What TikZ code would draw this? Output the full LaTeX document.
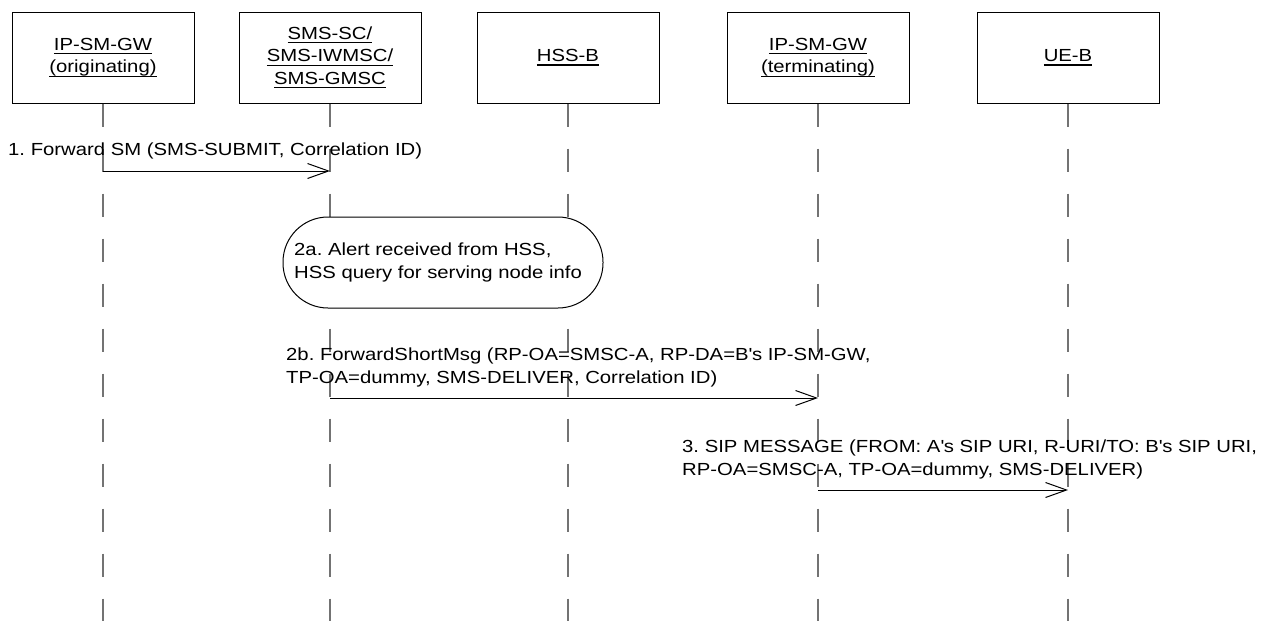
\documentclass[tikz,border=0pt]{standalone}
\usepackage{fontspec}
\setmainfont{Liberation Sans}[FakeStretch=1.16]
\usetikzlibrary{arrows.meta}
\newcommand\ulin[1]{\setbox0\hbox{#1}\rlap{\vrule height -2.8pt depth 4pt width\wd0}\box0}
\frenchspacing
\begin{document}
\begin{tikzpicture}[x=1pt,y=-1pt,
  every node/.style={font=\fontsize{17.5}{22.5}\selectfont},
  entity/.style={draw=black, line width=1pt, minimum width=182pt, minimum height=91pt, inner sep=0pt, align=center, fill=white},
  life/.style={draw=black!55, line width=1.3pt, dash pattern=on 23pt off 22pt},
  msg/.style={draw=black, line width=1pt, -{Straight Barb[length=21pt,width=15pt,line width=1pt]}},
  msgtext/.style={anchor=south west, inner sep=0pt, align=left, text depth=0pt},
  actbox/.style={draw=black, line width=1pt, rounded corners=45pt, fill=white, minimum width=320pt, minimum height=91pt, inner sep=0pt}
]
\useasboundingbox (0,0) rectangle (1268,621);

% entities
\node[entity] (b1) at (103,57.5) {\ulin{IP-SM-GW}\\\ulin{(originating)}};
\node[entity] (b2) at (330,57.5) {\ulin{SMS-SC/}\\\ulin{SMS-IWMSC/}\\\ulin{SMS-GMSC}};
\node[entity] (b3) at (568,57.5) {\ulin{HSS-B}};
\node[entity] (b4) at (818,57.5) {\ulin{IP-SM-GW}\\\ulin{(terminating)}};
\node[entity] (b5) at (1068,57.5) {\ulin{UE-B}};

% lifeline ends
\coordinate (e1) at (103,621);
\coordinate (e2) at (330,621);
\coordinate (e3) at (568,621);
\coordinate (e4) at (818,621);
\coordinate (e5) at (1068,621);

\draw[life] (b1.south) -- (e1);
\draw[life] (b2.south) -- (e2);
\draw[life] (b3.south) -- (e3);
\draw[life] (b4.south) -- (e4);
\draw[life] (b5.south) -- (e5);

% message points
\coordinate (m1a) at (103,171);
\coordinate (m1b) at (330,171);
\coordinate (m2a) at (330,398);
\coordinate (m2b) at (818,398);
\coordinate (m3a) at (818,490);
\coordinate (m3b) at (1068,490);

% 1
\node[msgtext] (t1) at (8,156) {1. Forward SM (SMS-SUBMIT, Correlation ID)};
\draw[msg] (m1a) -- (m1b);

% 2a
\node[actbox] (act) at (443,262.5) {};
\node[anchor=west, align=left, inner sep=0pt] (t2a) at (294,262.5) {2a. Alert received from HSS,\\HSS query for serving node info};

% 2b
\node[msgtext] (t2) at (286,383.5) {2b. ForwardShortMsg (RP-OA=SMSC-A, RP-DA=B\textquotesingle s IP-SM-GW,\\TP-OA=dummy, SMS-DELIVER, Correlation ID)};
\draw[msg] (m2a) -- (m2b);

% 3
\node[msgtext] (t3) at (682,475.5) {3. SIP MESSAGE (FROM: A\textquotesingle s SIP URI, R-URI/TO: B\textquotesingle s SIP URI,\\RP-OA=SMSC-A, TP-OA=dummy, SMS-DELIVER)};
\draw[msg] (m3a) -- (m3b);
\end{tikzpicture}
\end{document}
